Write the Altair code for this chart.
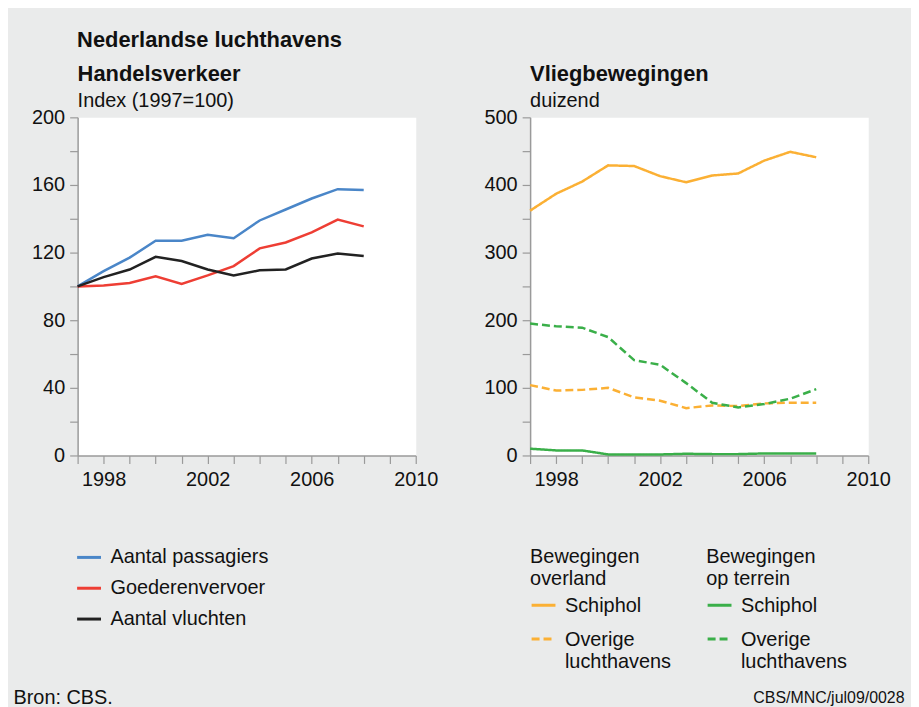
import altair as alt
import pandas as pd

# ---------------- data ----------------
jaren = list(range(1997, 2009))

# Handelsverkeer, index 1997=100
aantal_passagiers = [100, 109, 117, 127, 127, 130.5, 128.5, 139, 145.5, 152, 157.5, 157]
goederenvervoer = [100, 100.5, 102, 106, 101.5, 106.5, 112, 122.5, 126, 132, 139.5, 135.5]
aantal_vluchten = [100, 105.5, 110, 117.5, 115, 110, 106.5, 109.5, 110, 116.5, 119.5, 118]

# Vliegbewegingen, duizend
overland_schiphol = [362, 387, 405, 429, 428, 413, 404, 414, 417, 436, 449, 441]
overland_overige = [104, 96, 97, 100, 86, 81, 70, 74, 73, 77, 78, 78]
terrein_schiphol = [10, 7.5, 7.5, 1.5, 1.5, 1.5, 2.5, 2, 2, 3, 3, 3]
terrein_overige = [195, 191, 189, 175, 141, 134, 107, 78, 71, 76, 84, 98]

reeksen_links = ["Aantal passagiers", "Goederenvervoer", "Aantal vluchten"]
kleuren_links = ["#4a86c8", "#ee3e34", "#222222"]
reeksen_rechts = ["Schiphol", "Overige luchthavens"]
oranje = "#fbb034"
groen = "#3aaf49"

x_ticks = list(range(1997, 2011))
x_labels = [1998, 2002, 2006, 2010]
y_links_ticks = list(range(0, 201, 20))
y_links_labels = [0, 40, 80, 120, 160, 200]
y_rechts_ticks = list(range(0, 501, 50))
y_rechts_labels = [0, 100, 200, 300, 400, 500]

FONT = "Liberation Sans"
TXT = "#111111"
AXC = "#9a9a9a"

# ---------------- tables ----------------
rows = []
for naam, waarden in zip(reeksen_links, [aantal_passagiers, goederenvervoer, aantal_vluchten]):
    for j, w in zip(jaren, waarden):
        rows.append({"jaar": j, "reeks": naam, "waarde": w})
df_links = pd.DataFrame(rows)

rows = []
for groep, naam, waarden in [
    ("overland", "Schiphol", overland_schiphol),
    ("overland", "Overige luchthavens", overland_overige),
    ("terrein", "Schiphol", terrein_schiphol),
    ("terrein", "Overige luchthavens", terrein_overige),
]:
    for j, w in zip(jaren, waarden):
        rows.append({"jaar": j, "groep": groep, "reeks": naam, "waarde": w})
df_rechts = pd.DataFrame(rows)


def x_axis(titel, tx, align, fs):
    return alt.Axis(
        values=x_ticks,
        labelExpr=f"indexof({x_labels}, datum.value) >= 0 ? datum.label : ''",
        format="d",
        title=titel,
        titleX=tx,
        titleY=243,
        titleAlign=align,
        titleBaseline="middle",
        titleFontSize=fs,
        titleFontWeight="normal",
        titleColor=TXT,
        titleFont=FONT,
        labelFlush=False,
        labelPadding=6,
    )


def y_axis(ticks, labels):
    return alt.Axis(
        values=ticks,
        labelExpr=f"indexof({labels}, datum.value) >= 0 ? datum.label : ''",
        title=None,
        labelPadding=5,
    )


x_enc = alt.X("jaar:Q", scale=alt.Scale(domain=[1997, 2010], nice=False, zero=False),
              axis=x_axis("Bron: CBS.", -65, "left", 20))

links = alt.Chart(df_links).mark_line(strokeWidth=2.5).encode(
    x=x_enc,
    y=alt.Y("waarde:Q", scale=alt.Scale(domain=[0, 200], nice=False), axis=y_axis(y_links_ticks, y_links_labels)),
    color=alt.Color(
        "reeks:N",
        scale=alt.Scale(domain=reeksen_links, range=kleuren_links),
        legend=alt.Legend(
            title=None, orient="none", legendX=-2, legendY=429, direction="vertical",
            symbolType="stroke", symbolSize=576, symbolStrokeWidth=3,
            labelFontSize=20, labelOffset=8, rowPadding=7, labelColor=TXT, labelFont=FONT,
        ),
    ),
).properties(
    width=340, height=340,
    title=alt.TitleParams("Handelsverkeer", subtitle="Index (1997=100)", anchor="start", frame="group",
                          fontSize=22, fontWeight="bold", subtitleFontSize=20, subtitleColor=TXT,
                          color=TXT, font=FONT, subtitleFont=FONT, subtitlePadding=6, offset=-5),
)


def rechts_legend(titel, lx):
    return alt.Legend(
        title=titel, orient="none", legendX=lx, legendY=432, direction="vertical",
        symbolType="M-1,0.75H1", symbolSize=576, symbolStrokeWidth=3,
        labelFontSize=20, labelOffset=8, rowPadding=-5, labelColor=TXT, labelFont=FONT,
        labelBaseline="top", labelExpr="split(datum.label, ' ')",
        titleFontSize=20, titleFontWeight="normal", titleColor=TXT, titleFont=FONT,
        titleLineHeight=22, titlePadding=-6,
    )


x_enc_r = alt.X("jaar:Q", scale=alt.Scale(domain=[1997, 2010], nice=False, zero=False),
                axis=x_axis("CBS/MNC/jul09/0028", 376, "right", 16))
y_enc_r = alt.Y("waarde:Q", scale=alt.Scale(domain=[0, 500], nice=False), axis=y_axis(y_rechts_ticks, y_rechts_labels))

leg_over = rechts_legend(["Bewegingen", "overland"], 0)
leg_terr = rechts_legend(["Bewegingen", "op terrein"], 177)

overland = alt.Chart(df_rechts).transform_filter(alt.datum.groep == "overland").mark_line(strokeWidth=2.5).encode(
    x=x_enc_r, y=y_enc_r,
    color=alt.Color("reeks:N", scale=alt.Scale(domain=reeksen_rechts, range=[oranje, oranje]), legend=leg_over),
    strokeDash=alt.StrokeDash("reeks:N", scale=alt.Scale(domain=reeksen_rechts, range=[[1, 0], [8, 4]]), legend=leg_over),
)
terrein = alt.Chart(df_rechts).transform_filter(alt.datum.groep == "terrein").mark_line(strokeWidth=2.5).encode(
    x=x_enc_r, y=y_enc_r,
    color=alt.Color("reeks:N", scale=alt.Scale(domain=reeksen_rechts, range=[groen, groen]), legend=leg_terr),
    strokeDash=alt.StrokeDash("reeks:N", scale=alt.Scale(domain=reeksen_rechts, range=[[1, 0], [8, 4]]), legend=leg_terr),
)

rechts = alt.layer(overland, terrein).resolve_scale(color="independent", strokeDash="independent").properties(
    width=340, height=340,
    title=alt.TitleParams("Vliegbewegingen", subtitle="duizend", anchor="start", frame="group",
                          fontSize=22, fontWeight="bold", subtitleFontSize=20, subtitleColor=TXT,
                          color=TXT, font=FONT, subtitleFont=FONT, subtitlePadding=6, offset=-5),
)

chart = alt.hconcat(links, rechts, spacing=45).properties(
    title=alt.TitleParams("Nederlandse luchthavens", anchor="start", fontSize=22, fontWeight="bold",
                          color=TXT, font=FONT, dx=65, offset=10),
    padding={"left": 4, "top": 19, "right": 6, "bottom": 2},
    background="#eaebeb",
).configure_view(
    fill="white", stroke="transparent",
).configure_axis(
    domainColor=AXC, tickColor=AXC, tickSize=8, grid=False,
    labelFont=FONT, labelFontSize=20, labelColor=TXT, domainWidth=1.5, tickWidth=1.2,
)

chart.save("out.html", embed_options={"renderer": "svg", "actions": False})
